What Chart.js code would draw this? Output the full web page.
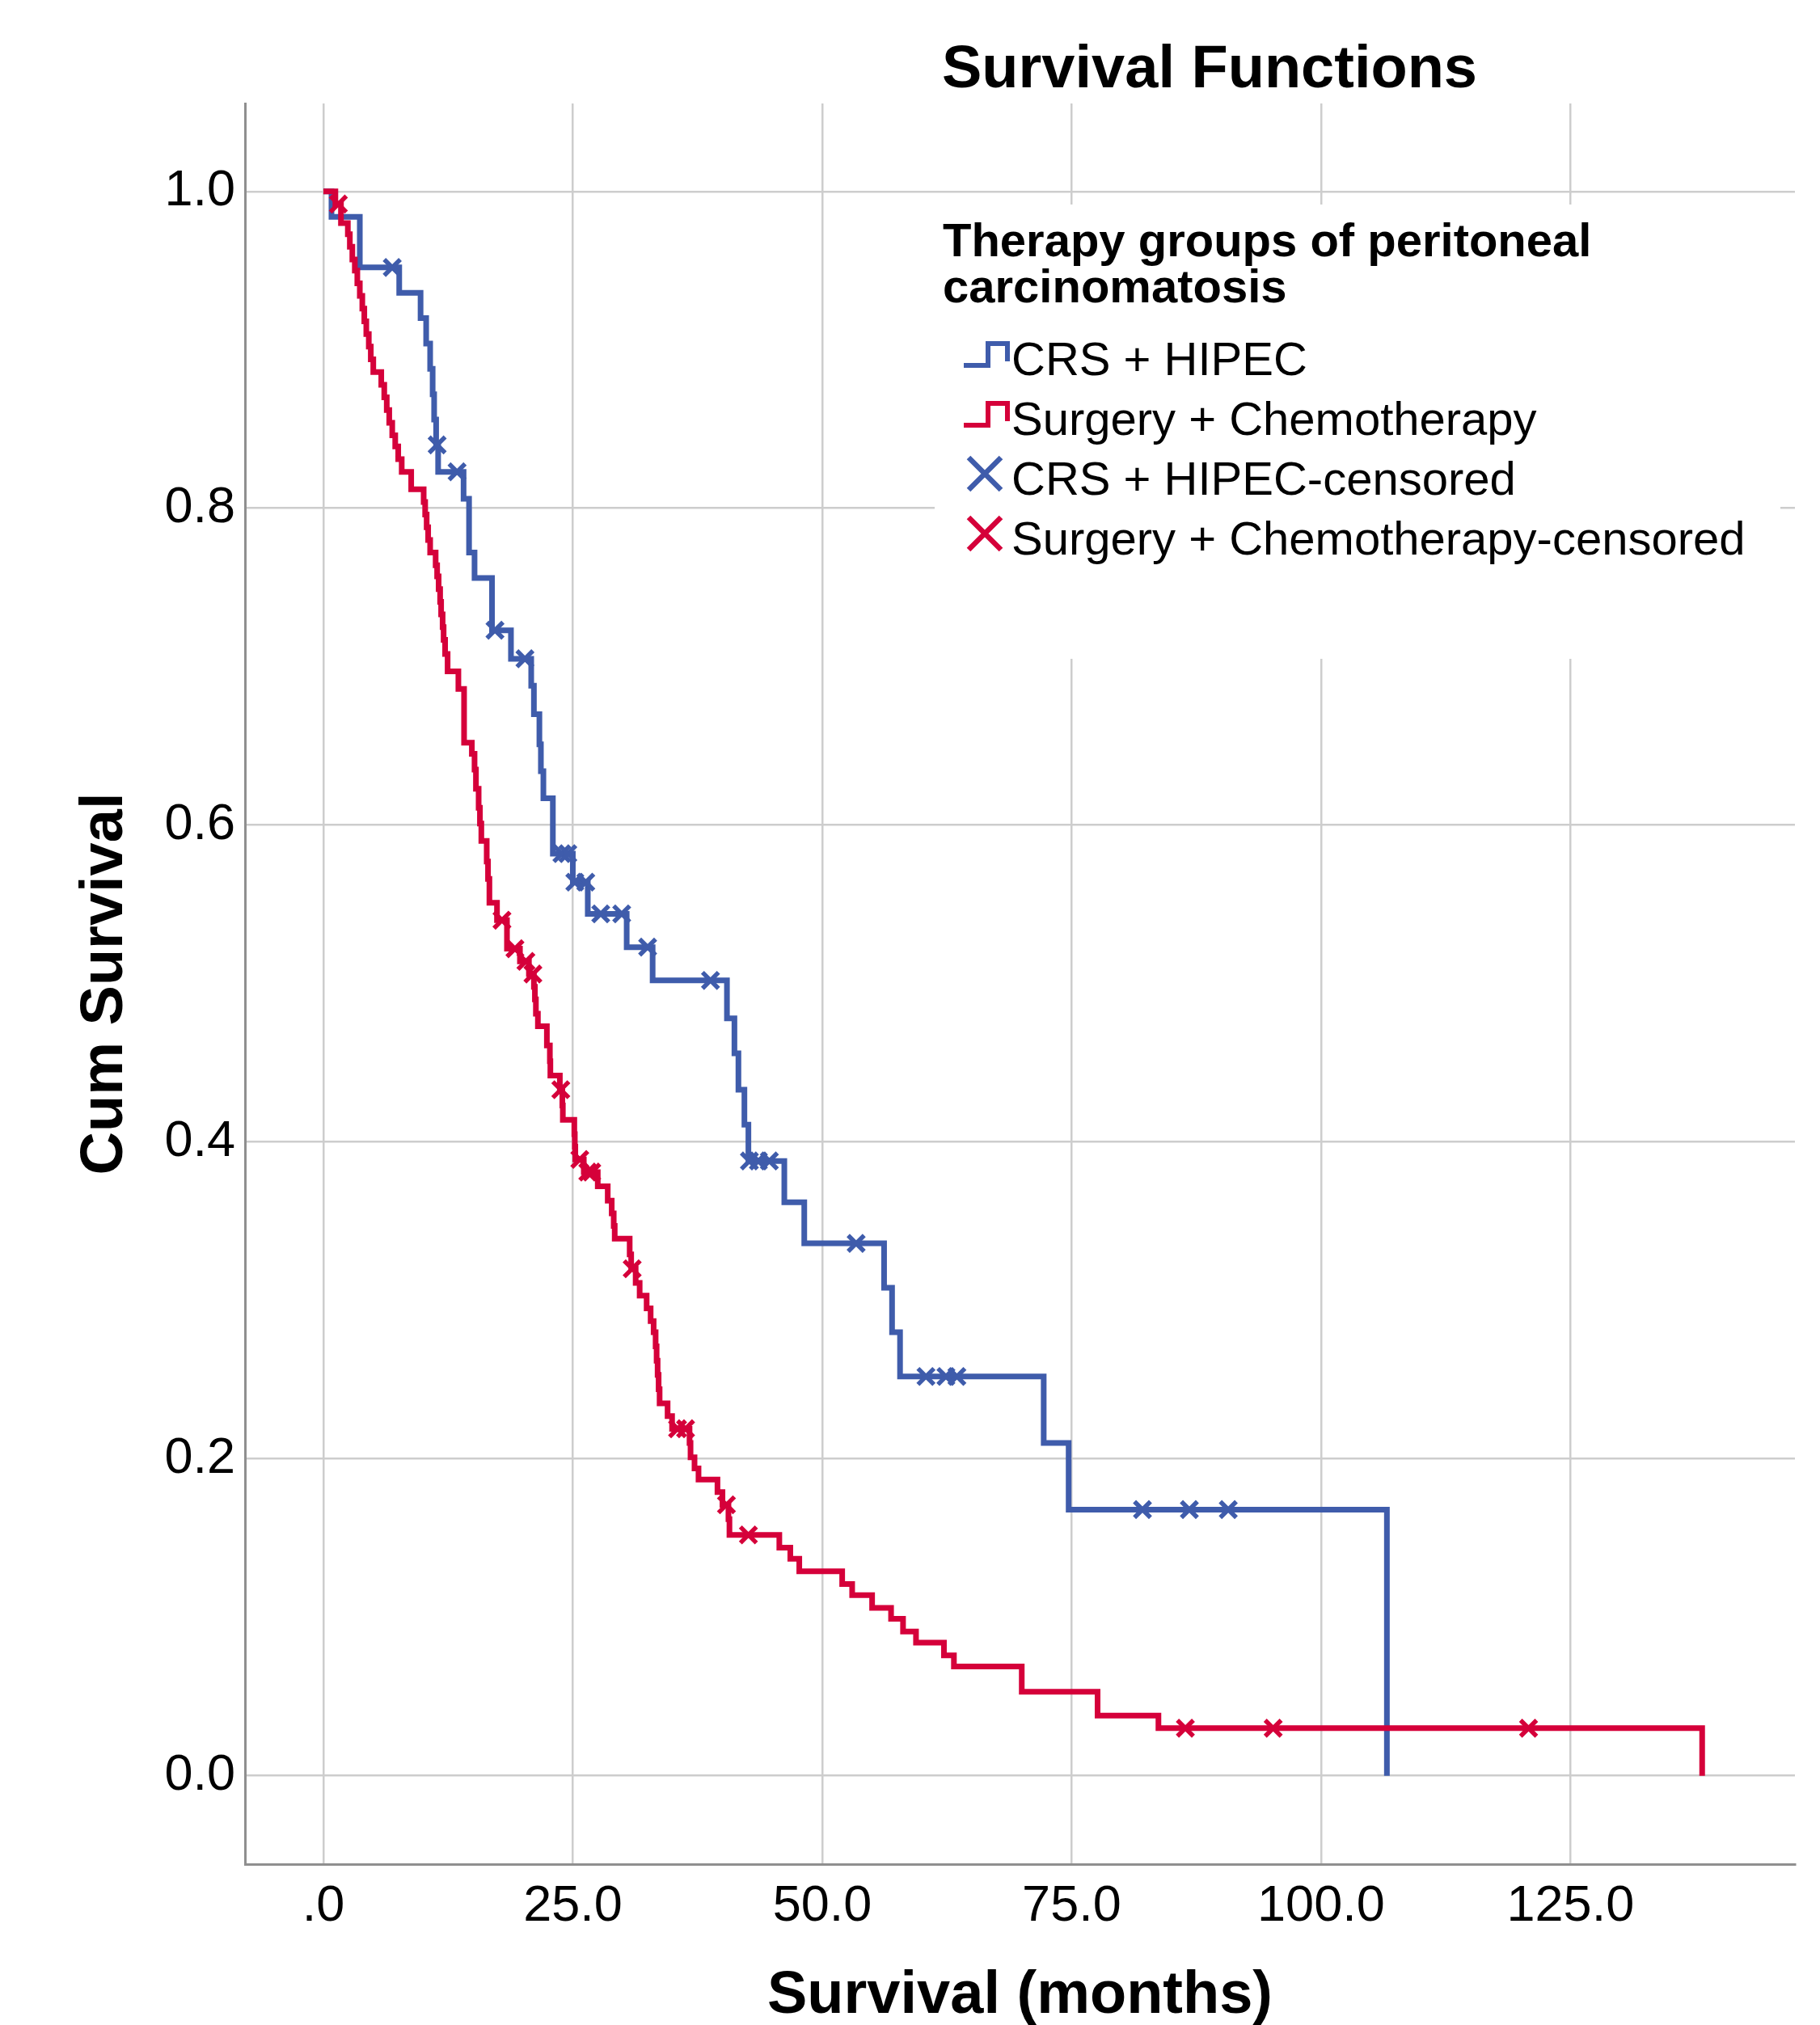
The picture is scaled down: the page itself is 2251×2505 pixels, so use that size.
<!DOCTYPE html>
<html>
<head>
<meta charset="utf-8">
<script src="https://cdn.jsdelivr.net/npm/chart.js@4.4.1/dist/chart.umd.min.js"></script>
<style>
html,body{margin:0;padding:0;background:#ffffff;}
#wrap{position:relative;width:2251px;height:2505px;}
canvas{display:block;}
</style>
</head>
<body>
<div id="wrap"><canvas id="c" width="2251" height="2505"></canvas></div>
<script>
// ---- texts ----
const chartTitle = 'Survival Functions';
const xAxisTitle = 'Survival (months)';
const yAxisTitle = 'Cum Survival';
const legendTitle = ['Therapy groups of peritoneal', 'carcinomatosis'];
const seriesNames = ['CRS + HIPEC', 'Surgery + Chemotherapy', 'CRS + HIPEC-censored', 'Surgery + Chemotherapy-censored'];

// ---- ticks ----
const xTicks = [0, 25, 50, 75, 100, 125];
const xTickLabels = ['.0', '25.0', '50.0', '75.0', '100.0', '125.0'];
const yTicks = [0, 0.2, 0.4, 0.6, 0.8, 1.0];
const yTickLabels = ['0.0', '0.2', '0.4', '0.6', '0.8', '1.0'];

// ---- CRS + HIPEC (event times and survival after each step) ----
const blueTimes = [0, 0.81, 3.65, 7.6, 9.74, 10.3, 10.7, 10.95, 11.1, 11.3, 11.5, 14.05, 14.6, 15.15, 16.9, 18.8, 20.83, 21.1, 21.65, 21.8, 22.05, 23.0, 25.0, 26.5, 30.4, 33.0, 40.45, 41.2, 41.6, 42.2, 42.6, 46.2, 48.2, 56.2, 57.0, 57.8, 72.2, 74.7, 106.6];
const blueSurv  = [1, 0.984, 0.952, 0.936, 0.920, 0.904, 0.888, 0.872, 0.856, 0.840, 0.823, 0.806, 0.772, 0.756, 0.723, 0.705, 0.688, 0.670, 0.651, 0.634, 0.617, 0.582, 0.564, 0.544, 0.523, 0.502, 0.478, 0.456, 0.433, 0.411, 0.388, 0.362, 0.336, 0.308, 0.280, 0.252, 0.210, 0.168, 0];
const blueCensorTimes = [6.9, 11.4, 13.4, 17.2, 20.2, 23.9, 24.5, 25.2, 26.3, 27.8, 29.9, 32.5, 38.8, 42.7, 43.6, 44.7, 53.4, 60.4, 62.4, 63.5, 82.1, 86.8, 90.7];
const blueCensorSurv  = [0.952, 0.840, 0.823, 0.723, 0.705, 0.582, 0.582, 0.564, 0.564, 0.544, 0.544, 0.523, 0.502, 0.388, 0.388, 0.388, 0.336, 0.252, 0.252, 0.252, 0.168, 0.168, 0.168];

// ---- Surgery + Chemotherapy ----
const redTimes = [0, 1.2, 1.76, 2.45, 2.65, 2.9, 3.15, 3.4, 3.65, 3.9, 4.1, 4.3, 4.55, 4.75, 5.0, 5.8, 6.1, 6.35, 6.6, 6.9, 7.2, 7.5, 7.85, 8.8, 10.05, 10.2, 10.35, 10.5, 10.7, 11.25, 11.4, 11.55, 11.7, 11.8, 11.95, 12.05, 12.2, 12.45, 13.53, 14.1, 14.88, 15.15, 15.29, 15.56, 15.69, 15.83, 16.37, 16.5, 16.64, 17.4, 18.4, 19.7, 20.6, 21.1, 21.2, 21.3, 21.5, 22.4, 22.7, 22.75, 23.7, 23.95, 24.0, 25.15, 25.2, 25.25, 26.1, 27.5, 28.5, 28.9, 29.1, 29.2, 30.7, 30.85, 31.3, 31.7, 32.4, 32.8, 33.1, 33.3, 33.4, 33.5, 33.6, 33.7, 34.5, 34.95, 36.7, 36.8, 37.2, 37.6, 39.5, 40.0, 40.6, 40.7, 45.7, 46.8, 47.7, 52.0, 53.0, 55.0, 56.9, 58.1, 59.4, 62.2, 63.2, 70.0, 77.6, 83.7, 138.2];
const redSurv  = [1, 0.992, 0.980, 0.973, 0.965, 0.957, 0.950, 0.942, 0.934, 0.926, 0.918, 0.910, 0.902, 0.894, 0.886, 0.878, 0.870, 0.862, 0.854, 0.846, 0.839, 0.831, 0.823, 0.812, 0.804, 0.796, 0.788, 0.780, 0.772, 0.764, 0.757, 0.749, 0.741, 0.733, 0.725, 0.717, 0.708, 0.697, 0.686, 0.652, 0.645, 0.635, 0.623, 0.611, 0.601, 0.590, 0.577, 0.566, 0.551, 0.540, 0.522, 0.514, 0.506, 0.498, 0.490, 0.481, 0.473, 0.461, 0.451, 0.442, 0.433, 0.423, 0.414, 0.405, 0.397, 0.389, 0.381, 0.372, 0.363, 0.355, 0.347, 0.339, 0.329, 0.320, 0.311, 0.303, 0.295, 0.287, 0.280, 0.271, 0.262, 0.253, 0.244, 0.235, 0.227, 0.219, 0.210, 0.201, 0.194, 0.187, 0.179, 0.171, 0.162, 0.152, 0.144, 0.137, 0.129, 0.121, 0.114, 0.106, 0.099, 0.091, 0.084, 0.076, 0.069, 0.053, 0.038, 0.030, 0];
const redCensorTimes = [1.5, 17.9, 19.2, 20.3, 21.0, 23.8, 25.7, 26.5, 26.9, 30.95, 35.5, 36.3, 40.4, 42.6, 86.4, 95.2, 120.8];
const redCensorSurv  = [0.992, 0.540, 0.522, 0.514, 0.506, 0.433, 0.389, 0.381, 0.381, 0.320, 0.219, 0.219, 0.171, 0.152, 0.030, 0.030, 0.030];

// ---- styles ----
const BLUE = '#3f5cab';
const RED = '#d5003a';
const FONT = "'Liberation Sans', Arial, sans-serif";

const toPts = (xs, ys) => xs.map((x, i) => ({x: x, y: ys[i]}));

const overlay = {
  id: 'overlay',
  afterDraw(chart) {
    const ctx = chart.ctx;
    ctx.save();
    // chart title
    ctx.fillStyle = '#000';
    ctx.textAlign = 'left';
    ctx.textBaseline = 'alphabetic';
    ctx.font = 'bold 74px ' + FONT;
    ctx.fillText(chartTitle, 1165, 108);
    // legend box (hides grid)
    ctx.fillStyle = '#ffffff';
    ctx.fillRect(1156, 253, 1046, 562);
    // legend title
    ctx.fillStyle = '#000';
    ctx.font = 'bold 58px ' + FONT;
    ctx.fillText(legendTitle[0], 1166, 317);
    ctx.fillText(legendTitle[1], 1166, 374);
    // legend items
    ctx.font = '58px ' + FONT;
    const baselines = [464, 538, 612, 686];
    seriesNames.forEach((n, i) => ctx.fillText(n, 1251, baselines[i]));
    // step icons
    ctx.lineWidth = 6;
    ctx.lineJoin = 'miter';
    ctx.lineCap = 'butt';
    [[BLUE, baselines[0]], [RED, baselines[1]]].forEach(([c, b]) => {
      ctx.strokeStyle = c;
      ctx.beginPath();
      ctx.moveTo(1192, b - 12);
      ctx.lineTo(1222, b - 12);
      ctx.lineTo(1222, b - 39);
      ctx.lineTo(1246, b - 39);
      ctx.lineTo(1246, b - 17);
      ctx.stroke();
    });
    // X icons
    ctx.lineWidth = 6.5;
    [[BLUE, baselines[2]], [RED, baselines[3]]].forEach(([c, b]) => {
      const cx = 1218, cy = b - 26, r = 20;
      ctx.strokeStyle = c;
      ctx.beginPath();
      ctx.moveTo(cx - r, cy - r); ctx.lineTo(cx + r, cy + r);
      ctx.moveTo(cx + r, cy - r); ctx.lineTo(cx - r, cy + r);
      ctx.stroke();
    });
    ctx.restore();
  }
};

new Chart(document.getElementById('c'), {
  type: 'scatter',
  data: {
    datasets: [
      {
        label: seriesNames[3], data: toPts(redCensorTimes, redCensorSurv), order: 0,
        showLine: false, pointStyle: 'crossRot', pointRadius: 14, borderWidth: 5.5,
        borderColor: RED, backgroundColor: RED
      },
      {
        label: seriesNames[2], data: toPts(blueCensorTimes, blueCensorSurv), order: 1,
        showLine: false, pointStyle: 'crossRot', pointRadius: 14, borderWidth: 5.5,
        borderColor: BLUE, backgroundColor: BLUE
      },
      {
        label: seriesNames[1], data: toPts(redTimes, redSurv), order: 2,
        showLine: true, stepped: true, pointRadius: 0, borderWidth: 7,
        borderColor: RED, backgroundColor: RED, fill: false,
        borderJoinStyle: 'miter', borderCapStyle: 'butt'
      },
      {
        label: seriesNames[0], data: toPts(blueTimes, blueSurv), order: 3,
        showLine: true, stepped: true, pointRadius: 0, borderWidth: 7,
        borderColor: BLUE, backgroundColor: BLUE, fill: false,
        borderJoinStyle: 'miter', borderCapStyle: 'butt'
      }
    ]
  },
  options: {
    responsive: false,
    animation: false,
    devicePixelRatio: 1,
    events: [],
    layout: { padding: { left: 0, top: 128, right: 31, bottom: 0 } },
    plugins: { legend: { display: false }, tooltip: { enabled: false }, title: { display: false } },
    scales: {
      x: {
        type: 'linear',
        min: -7.86,
        max: 147.5,
        afterBuildTicks: (s) => { s.ticks = xTicks.map(v => ({ value: v })); },
        afterFit: (s) => { s.height = 199; },
        ticks: {
          autoSkip: false, maxRotation: 0, minRotation: 0,
          padding: 15, color: '#000',
          font: { family: FONT, size: 63 },
          callback: (v) => { const i = xTicks.indexOf(v); return i >= 0 ? xTickLabels[i] : ''; }
        },
        grid: { color: '#cdcdcd', lineWidth: 2.5, drawTicks: false },
        border: { display: true, color: '#8f8f8f', width: 3 },
        title: {
          display: true, text: xAxisTitle, color: '#000',
          font: { family: FONT, size: 74, weight: 'bold', lineHeight: 0.9 },
          padding: { top: 0, bottom: 2 }
        }
      },
      y: {
        type: 'linear',
        min: -0.0558,
        max: 1.0555,
        afterBuildTicks: (s) => { s.ticks = yTicks.map(v => ({ value: v })); },
        afterFit: (s) => { s.width = 303; },
        ticks: {
          autoSkip: false, padding: 12, color: '#000',
          font: { family: FONT, size: 63 },
          callback: (v) => { const i = yTicks.findIndex(t => Math.abs(t - v) < 1e-9); return i >= 0 ? yTickLabels[i] : ''; }
        },
        grid: { color: '#cdcdcd', lineWidth: 2.5, drawTicks: false },
        border: { display: true, color: '#8f8f8f', width: 3 },
        title: {
          display: true, text: yAxisTitle, color: '#000',
          font: { family: FONT, size: 74, weight: 'bold', lineHeight: 1.2 },
          padding: { top: 86, bottom: 0 }
        }
      }
    }
  },
  plugins: [overlay]
});
</script>
</body>
</html>
